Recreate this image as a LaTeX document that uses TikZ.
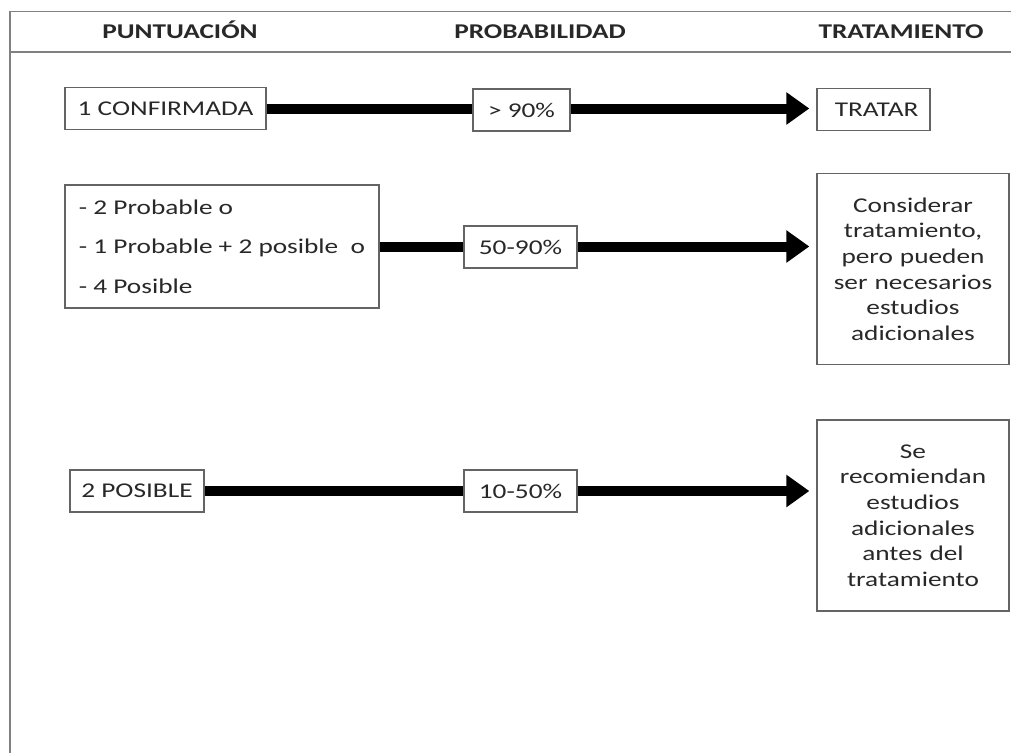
\documentclass[tikz,border=0pt]{standalone}
\usepackage{fontspec}
\setmainfont{Carlito}[FakeStretch=1.3]
\usepackage{tikz}
\usetikzlibrary{
	arrows.meta,
	positioning
}
\definecolor{linegray}{RGB}{128,128,128}
\definecolor{boxgray}{RGB}{100,100,100}
\definecolor{textgray}{RGB}{40,40,40}
\tikzset{
  % lines
	cstframe/.style   ={line width=1.6pt, draw=linegray},
	cstarrow/.style   ={-{Triangle[length=23pt,width=31pt]}, line width=10pt, shorten >=7pt},
  % text
	csthead/.style    ={font=\fontsize{21}{25}\selectfont\bfseries, text=textgray, anchor=base},
  % node
	cstbox/.style     ={draw=boxgray, line width=1.3pt, fill=white, text=textgray,
	                    font=\fontsize{21}{25.6}\selectfont, inner sep=0pt,
	                    minimum height=42pt},
	cstprob/.style    ={cstbox, minimum width=113pt},
	csttall/.style    ={cstbox, align=center, text width=192pt, minimum height=191pt}
}

\begin{document}
\begin{tikzpicture}[x=1pt,y=-1pt]
	\useasboundingbox (0,0) rectangle (1011,753);
	% frame
	\draw[cstframe] (10,753) -- (10,11.5) -- (1011,11.5);
	\draw[cstframe] (10,52) -- (1011,52);
	\node[csthead] (hpunt) at (180,38) {PUNTUACIÓN};
	\node[csthead] (hprob) at (540,38) {PROBABILIDAD};
	\node[csthead] (htrat) at (901,38) {TRATAMIENTO};
	% row 1
	\node[cstbox, minimum width=201pt] (conf) at (165.5,108.5) {1 CONFIRMADA};
	\node[cstbox, minimum width=113pt] (trat1) at (873.5,109.5) {\ TRATAR};
	\draw[cstarrow] (conf.east) -- (conf -| trat1.west);
	\node[cstbox, minimum width=97pt] (prob1) at (521.5,110) {> 90\%};
	% row 2
	\node[cstbox, align=left, minimum width=314pt, minimum height=123pt,
		font=\fontsize{21}{39.5}\selectfont] (list) at (222,246.5)
		{- 2 Probable o\\- 1 Probable + 2 posible\ \ o\\- 4 Posible};
	\node[csttall] (trat2) at (913,269)
		{Considerar\\tratamiento,\\pero pueden\\ser necesarios\\estudios\\adicionales};
	\draw[cstarrow] (list.east) -- (list -| trat2.west);
	\node[cstprob] (prob2) at (520.5,247) {50-90\%};
	% row 3
	\node[cstbox, minimum width=134pt] (pos) at (137,491) {2 POSIBLE};
	\node[csttall] (trat3) at (913,515.5)
		{Se\\recomiendan\\estudios\\adicionales\\antes del\\tratamiento};
	\draw[cstarrow] (pos.east) -- (pos -| trat3.west);
	\node[cstprob] (prob3) at (520.5,491) {10-50\%};
\end{tikzpicture}
\end{document}
